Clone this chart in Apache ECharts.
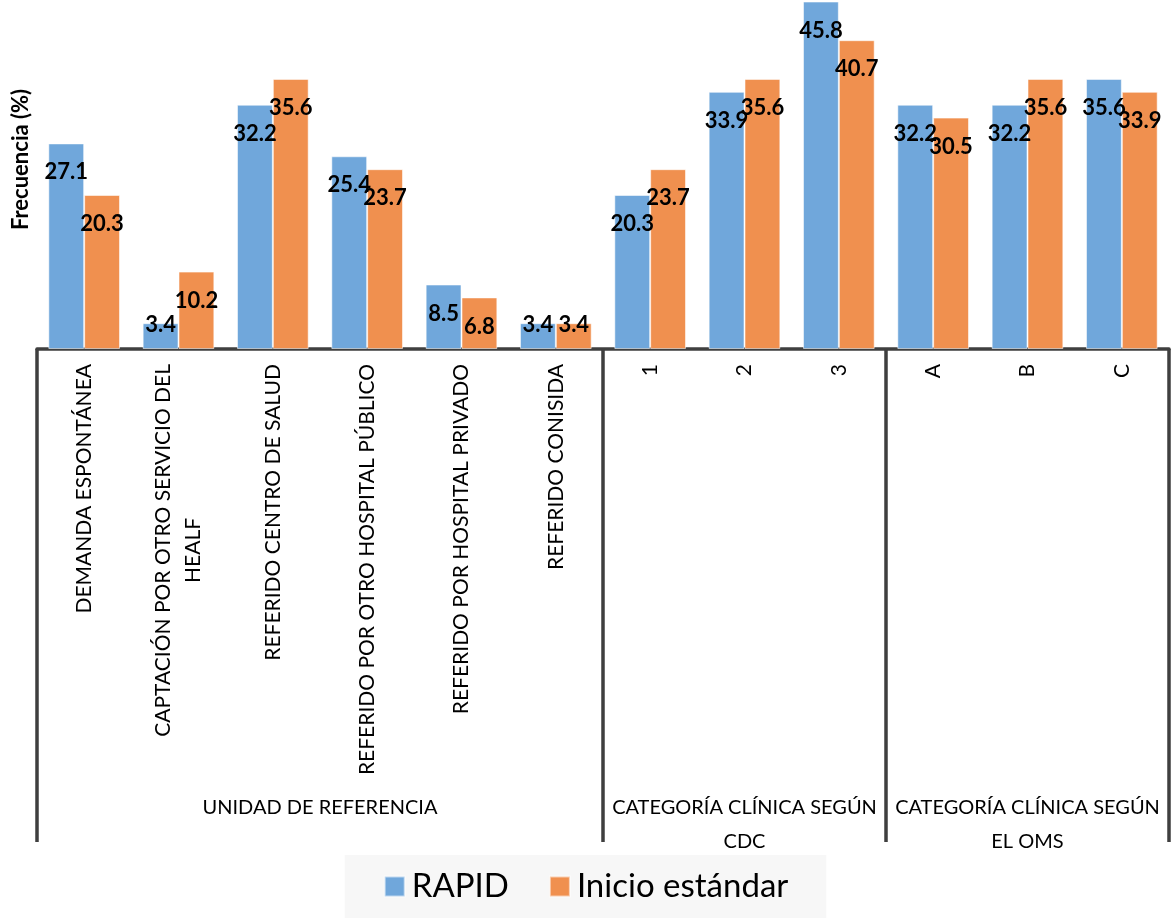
<!DOCTYPE html>
<html>
<head>
<meta charset="utf-8">
<script src="https://cdn.jsdelivr.net/npm/echarts@6/dist/echarts.min.js"></script>
<style>
  html, body { margin: 0; padding: 0; background: #ffffff; }
  #chart { width: 1172px; height: 918px; }
</style>
</head>
<body>
<div id="chart"></div>
<script>
// Categories (first level) and their groups (second level)
const categories = [
  'DEMANDA ESPONTÁNEA',
  'CAPTACIÓN POR OTRO SERVICIO DEL\nHEALF',
  'REFERIDO CENTRO DE SALUD',
  'REFERIDO POR OTRO HOSPITAL PÚBLICO',
  'REFERIDO POR HOSPITAL PRIVADO',
  'REFERIDO CONISIDA',
  '1', '2', '3',
  'A', 'B', 'C'
];
const groups = [
  'UNIDAD DE REFERENCIA',
  'CATEGORÍA CLÍNICA SEGÚN\nCDC',
  'CATEGORÍA CLÍNICA SEGÚN\nEL OMS'
];
const groupSizes = [6, 3, 3];

// Frequencies (%)
const rapid  = [27.1, 3.4, 32.2, 25.4, 8.5, 3.4, 20.3, 33.9, 45.8, 32.2, 32.2, 35.6];
const inicio = [20.3, 10.2, 35.6, 23.7, 6.8, 3.4, 23.7, 35.6, 40.7, 30.5, 35.6, 33.9];

const seriesNames = ['RAPID', 'Inicio estándar'];
const colors = ['#70a7db', '#f0904f'];

const FONT = 'Lato, "Open Sans", sans-serif';
const LINE = '#3f3f3f';

// group boundaries (category index where each group starts) and group centers
const groupStarts = [];
const groupCenters = [];
let acc = 0;
groupSizes.forEach(function (n) {
  groupStarts.push(acc);
  groupCenters.push(acc + n / 2);
  acc += n;
});

// labels sit just inside the bar end; very short bars get them raised
function labelled(values) {
  return values.map(function (v) {
    return v < 5 ? { value: v, label: { distance: -9 } } : { value: v };
  });
}

const chart = echarts.init(document.getElementById('chart'), null, { renderer: 'canvas' });

chart.setOption({
  animation: false,
  color: colors,
  textStyle: { fontFamily: FONT },
  grid: { left: 37, right: 2, top: 0, bottom: 569, containLabel: false },
  legend: {
    data: seriesNames,
    top: 855,
    left: 'center',
    icon: 'rect',
    itemWidth: 20,
    itemHeight: 20,
    itemGap: 40,
    padding: [15, 38, 15, 39],
    backgroundColor: '#f7f7f7',
    textStyle: { fontFamily: FONT, fontSize: 33, color: '#000000', padding: [0, 0, 0, 2] }
  },
  xAxis: [
    {
      type: 'category',
      data: categories,
      axisLine: { show: true, lineStyle: { color: LINE, width: 3.5 } },
      axisTick: {
        show: true,
        length: 493,
        interval: function (idx) { return groupStarts.indexOf(idx) >= 0; },
        lineStyle: { color: LINE, width: 3.5 }
      },
      axisLabel: {
        interval: 0,
        rotate: 90,
        margin: 15,
        color: '#000000',
        fontFamily: FONT,
        fontSize: 21,
        formatter: function (v) {
          return v.split('\n').map(function (s) { return '{c|' + s + '}'; }).join('\n');
        },
        rich: {
          c: { align: 'center', fontFamily: FONT, fontSize: 21, lineHeight: 30, color: '#000000' }
        }
      },
      splitLine: { show: false }
    },
    {
      type: 'value',
      position: 'bottom',
      offset: 434,
      min: 0,
      max: acc,
      interval: 0.5,
      axisLine: { show: false },
      axisTick: { show: false },
      splitLine: { show: false },
      axisLabel: {
        margin: 8,
        color: '#000000',
        fontFamily: FONT,
        fontSize: 20,
        lineHeight: 34,
        align: 'center',
        formatter: function (v) {
          for (let i = 0; i < groupCenters.length; i++) {
            if (Math.abs(v - groupCenters[i]) < 1e-6) return groups[i];
          }
          return '';
        }
      }
    }
  ],
  yAxis: {
    type: 'value',
    min: 0,
    max: 46,
    interval: 46,
    name: 'Frecuencia (%)',
    nameLocation: 'middle',
    nameGap: 5,
    nameTextStyle: {
      fontFamily: FONT,
      fontSize: 22,
      fontWeight: 'bold',
      color: '#000000',
      padding: [0, 0, 0, 30]
    },
    axisLine: { show: false },
    axisTick: { show: false },
    axisLabel: { show: false },
    splitLine: { show: false }
  },
  series: [rapid, inicio].map(function (vals, i) {
    return {
      name: seriesNames[i],
      type: 'bar',
      xAxisIndex: 0,
      data: labelled(vals),
      barGap: '0%',
      barCategoryGap: '24%',
      itemStyle: { color: colors[i], borderColor: 'rgba(255,255,255,0.55)', borderWidth: 1 },
      label: {
        show: true,
        position: 'insideTop',
        distance: 18,
        color: '#000000',
        fontFamily: FONT,
        fontSize: 22,
        fontWeight: 'bold'
      }
    };
  })
});
</script>
</body>
</html>
